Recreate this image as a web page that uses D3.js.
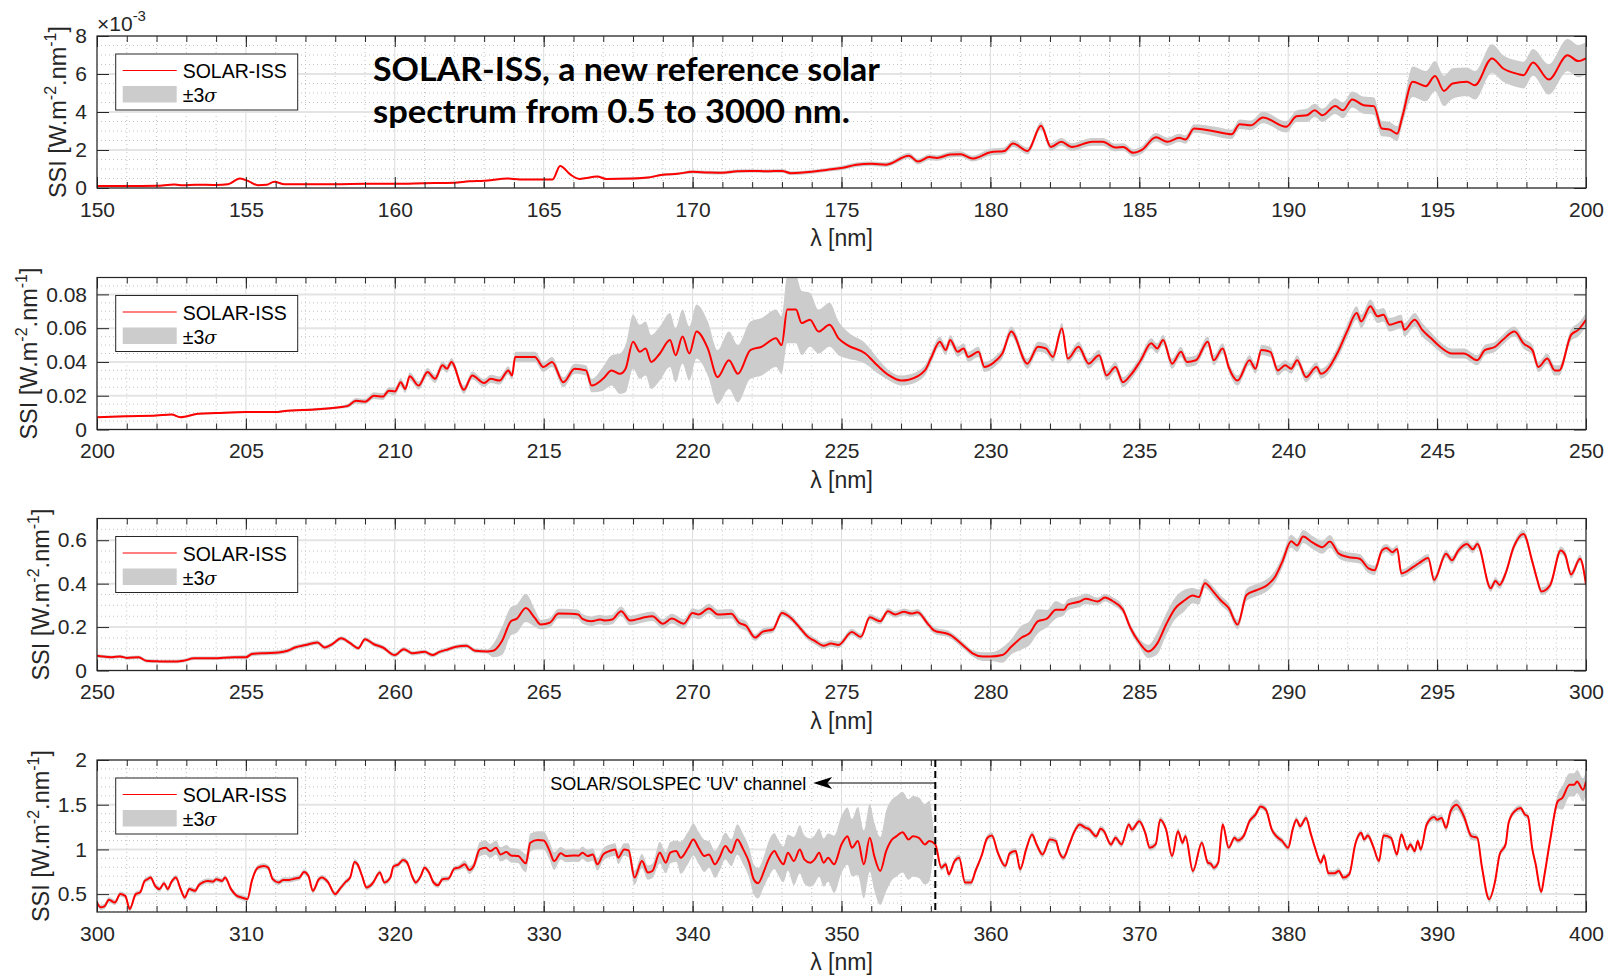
<!DOCTYPE html>
<html lang="en">
<head>
  <meta charset="UTF-8">
  <title>SOLAR-ISS spectrum 150-400 nm</title>
  <style>
    body { margin: 0; background: #fff; }
    svg { display: block; }
  </style>
</head>
<body>
  <div id="chart"></div>
  <script src="https://d3js.org/d3.v7.min.js"></script>
  <script>
// ---- panel 1 : 150-200 nm (values in 10^-3 W.m-2.nm-1)
const wl1 = [150,151,152,152.6,152.9,153.3,154,154.4,154.8,155.1,
  155.4,155.7,155.95,156.3,157,158,159,160,161,162,
  162.5,163,163.8,164.2,165,165.3,165.55,165.9,166.2,166.8,
  167.1,168,168.5,169,169.5,170,170.5,171,171.5,172,
  172.5,173,173.3,174,174.5,175,175.5,176,176.5,177.26,
  177.57,177.95,178.2,178.65,179,179.4,180,180.47,180.76,181.25,
  181.7,182.03,182.38,182.73,183.42,183.77,184.2,184.46,184.8,185.07,
  185.56,185.94,186.34,186.55,186.84,187.5,188.1,188.37,188.75,189.15,
  189.93,190.28,190.63,190.89,191.15,191.58,191.84,192.15,192.53,192.88,
  193.14,193.4,193.66,193.83,194.18,194.62,194.93,195.23,195.52,196,
  196.27,196.84,197.22,197.74,197.9,198.22,198.75,199.38,199.74,200]
const ssi1 = [0.10,0.10,0.12,0.18,0.14,0.17,0.16,0.20,0.50,0.35,
  0.15,0.17,0.33,0.20,0.20,0.20,0.22,0.22,0.25,0.28,
  0.35,0.38,0.50,0.45,0.45,0.45,1.16,0.70,0.48,0.60,
  0.48,0.50,0.55,0.70,0.75,0.85,0.82,0.80,0.88,0.90,
  0.88,0.90,0.78,0.85,0.95,1.05,1.22,1.28,1.23,1.70,
  1.39,1.63,1.58,1.76,1.78,1.55,1.88,1.95,2.34,1.95,
  3.27,2.16,2.43,2.16,2.43,2.43,2.13,2.16,1.85,1.99,
  2.67,2.43,2.64,2.55,3.13,2.99,2.83,3.36,3.30,3.71,
  3.22,3.78,3.83,4.09,3.83,4.31,4.09,4.66,4.36,4.31,
  3.13,3.08,2.86,3.74,5.59,5.36,5.89,5.11,5.50,5.59,
  5.41,6.82,6.29,5.99,5.94,6.61,5.71,6.99,6.68,6.82]
// 3-sigma half width, read as steps: start wavelength / value
const sigWl1 = [150,168,170,173,175,177,180,181.5,185.5,187,189,190.5,191.5,192.5,193,193.9,194.1,196,197,198.5,199]
const sigVal1 = [0.04,0.06,0.09,0.1,0.12,0.15,0.18,0.2,0.22,0.25,0.3,0.35,0.42,0.45,0.4,0.6,0.8,0.75,0.7,0.8,0.85]

// ---- panel 2 : 200-250 nm
const wl2 = [200,201,202,202.5,202.8,203.4,204,205,206,206.3,
  207.3,208.2,208.42,208.7,209,209.3,209.6,209.8,210,210.2,
  210.35,210.5,210.8,211.1,211.35,211.6,211.75,211.9,212.32,212.6,
  213,213.22,213.52,213.81,213.94,214.04,214.7,214.99,215.28,215.66,
  216.04,216.42,216.61,216.99,217.28,217.56,217.75,218,218.23,218.42,
  218.61,218.9,219.24,219.43,219.66,219.89,220.13,220.51,220.84,221.22,
  221.52,221.94,222.32,222.8,222.99,223.18,223.47,223.66,223.94,224.23,
  224.6,224.9,225.2,225.8,226.2,226.6,227,227.26,227.8,228,
  228.3,228.5,228.65,228.9,229.1,229.25,229.6,229.8,230.2,230.4,
  230.7,231.24,231.6,231.86,232.1,232.4,232.6,232.96,233.3,233.65,
  233.9,234.2,234.45,234.7,235.05,235.4,235.6,235.8,236.1,236.4,
  236.6,236.9,237.3,237.5,237.8,238,238.3,238.7,238.9,239.1,
  239.4,239.65,239.9,240.1,240.3,240.6,240.95,241.1,241.7,242,
  242.3,242.45,242.76,243,243.2,243.4,243.8,243.9,244.25,244.5,
  244.8,245.1,245.5,245.9,246.35,246.6,246.95,247.2,247.6,247.9,
  248.2,248.4,248.7,248.95,249.1,249.5,249.74,250]
const ssi2 = [.0073,.0079,.0083,.0089,.0073,.0093,.0097,.0103,.0103,.0109,
  .0119,.0133,.0140,.0170,.0165,.0200,.0195,.0230,.0225,.0280,
  .0240,.0315,.0260,.0340,.0300,.0380,.0360,.0400,.0235,.0320,
  .0275,.0300,.0290,.0350,.0320,.0430,.0430,.0370,.0400,.0280,
  .0360,.0350,.0260,.0300,.0350,.0330,.0360,.0520,.0460,.0480,
  .0400,.0450,.0530,.0440,.0550,.0450,.0580,.0480,.0310,.0410,
  .0330,.0470,.0490,.0540,.0500,.0710,.0710,.0630,.0650,.0580,
  .0620,.0540,.0500,.0450,.0380,.0320,.0290,.0295,.0350,.0420,
  .0520,.0470,.0530,.0460,.0480,.0430,.0460,.0370,.0410,.0450,
  .0580,.0390,.0490,.0480,.0430,.0600,.0420,.0490,.0390,.0440,
  .0320,.0370,.0280,.0320,.0410,.0510,.0480,.0530,.0390,.0460,
  .0400,.0410,.0520,.0410,.0480,.0370,.0290,.0410,.0360,.0470,
  .0460,.0350,.0380,.0360,.0410,.0310,.0370,.0330,.0470,.0590,
  .0690,.0640,.0730,.0670,.0680,.0620,.0640,.0590,.0650,.0590,
  .0540,.0490,.0450,.0450,.0410,.0470,.0490,.0530,.0580,.0510,
  .0470,.0370,.0420,.0350,.0350,.0560,.0590,.0650]
const sigWl2 = [200,205,207,208.4,208.6,209.2,210,214,216.5,216.9,217.2,217.5,217.7,217.9,221,222.7,223,223.6,223.9,224.2,224.7,225.1,225.6,226,226.5,241.5,241.9,244.7,245,249.3,249.6]
const sigVal2 = [.0005,.0006,.0008,.0012,.0016,.002,.0024,.003,.004,.007,.009,.012,.014,.016,.017,.017,.02,.019,.016,.013,.01,.008,.006,.0045,.003,.0035,.004,.0035,.003,.0035,.004]

// ---- panel 3 : 250-300 nm
const wl3 = [250,250.2,250.5,250.77,251,251.4,251.65,252.1,252.5,252.9,
  253.26,253.9,254.6,255,255.2,255.66,256.1,256.4,256.65,257,
  257.4,257.65,257.9,258.2,258.5,258.77,259,259.3,259.6,260,
  260.3,260.6,261,261.26,261.5,261.8,262.06,262.4,262.7,263.1,
  263.3,263.6,263.9,264.1,264.4,264.7,264.9,265.2,265.5,265.9,
  266.16,266.3,266.6,266.9,267.05,267.3,267.6,267.9,268.3,268.65,
  269,269.3,269.7,270,270.2,270.55,270.85,271.3,271.56,271.8,
  272.1,272.36,272.7,273,273.3,273.6,273.87,274.1,274.4,274.65,
  274.9,275.35,275.65,275.95,276.3,276.56,276.8,277.1,277.35,277.55,
  277.9,278.1,278.65,279.1,279.4,279.75,280,280.4,280.7,281.05,
  281.3,281.6,281.9,282.2,282.47,282.6,283,283.2,283.6,283.85,
  284.1,284.45,284.7,285,285.3,285.6,285.9,286.2,286.5,286.8,
  287,287.2,287.5,287.75,288,288.3,288.6,288.96,289.3,289.56,
  289.8,290.1,290.3,290.5,290.8,291.15,291.4,291.7,292,292.4,
  292.7,292.9,293.15,293.3,293.5,293.66,293.8,294.2,294.4,294.7,
  294.9,295.3,295.5,295.7,296,296.2,296.35,296.8,296.96,297.1,
  297.3,297.57,297.9,298.2,298.35,298.5,298.8,299.15,299.3,299.5,
  299.8,300]
const ssi3 = [.068,.064,.061,.065,.058,.061,.045,.042,.041,.045,
  .056,.056,.061,.061,.076,.080,.083,.091,.106,.117,
  .129,.106,.121,.148,.126,.103,.144,.121,.106,.071,
  .098,.079,.086,.071,.086,.098,.109,.114,.091,.088,
  .091,.136,.227,.239,.288,.242,.212,.220,.262,.261,
  .258,.238,.227,.235,.230,.235,.273,.230,.242,.250,
  .215,.239,.215,.265,.258,.285,.258,.261,.220,.205,
  .152,.179,.189,.265,.242,.197,.155,.136,.114,.124,
  .118,.177,.155,.245,.227,.273,.258,.270,.262,.268,
  .215,.185,.164,.114,.079,.064,.064,.071,.109,.152,
  .170,.227,.239,.280,.280,.303,.318,.330,.318,.336,
  .320,.280,.197,.129,.088,.124,.212,.285,.321,.345,
  .338,.402,.361,.321,.288,.212,.348,.371,.394,.432,
  .500,.595,.576,.617,.591,.568,.594,.538,.523,.515,
  .470,.462,.553,.564,.545,.560,.447,.477,.495,.518,
  .417,.538,.508,.550,.582,.558,.582,.379,.412,.394,
  .447,.568,.629,.500,.424,.364,.394,.553,.533,.442,
  .515,.397]
const sigWl3 = [250,255,263.3,263.6,264.45,264.9,272,279.7,280.4,280.8,281.8,282.4,283.3,285.2,285.6,286.6,287.1,288.5,290,291.5,293]
const sigVal3 = [.008,.01,.03,.065,.04,.022,.015,.02,.035,.055,.04,.025,.018,.03,.05,.035,.022,.028,.03,.022,.018]

// ---- panel 4 : 300-400 nm
const wl4 = [300,300.24,300.5,300.8,301.2,301.56,301.9,302.2,302.6,302.9,
  303.2,303.4,303.6,303.9,304.2,304.5,304.75,305,305.3,305.6,
  305.9,306.2,306.6,306.8,307.1,307.4,307.8,308,308.4,308.6,
  309,309.4,309.7,310.1,310.4,310.8,311.2,311.5,311.8,312.2,
  312.5,312.9,313.3,313.6,313.9,314.2,314.5,314.9,315.1,315.5,
  316,316.3,316.7,317,317.3,317.5,317.8,318.1,318.5,319,
  319.3,319.7,319.9,320.25,320.55,320.8,321.2,321.4,321.75,322,
  322.3,322.6,322.9,323.2,323.6,324,324.3,324.7,325,325.3,
  325.7,326.1,326.4,326.8,327.1,327.5,327.8,328.3,328.6,328.8,
  329.1,329.6,330,330.4,330.7,331.15,331.5,332,332.35,332.6,
  332.95,333.3,333.6,334,334.4,334.8,335,335.4,335.7,336.1,
  336.6,337,337.3,337.8,338.2,338.5,338.9,339.2,339.7,340.05,
  340.4,340.8,341.1,341.5,341.8,342.2,342.6,343,343.4,343.8,
  344.1,344.4,344.8,345.1,345.5,345.7,346.1,346.4,346.8,347.2,
  347.5,347.9,348.2,348.5,348.8,349.1,349.5,350,350.4,350.7,
  351.1,351.5,351.9,352.2,352.6,353,353.4,353.7,354.1,354.5,
  354.8,355.2,355.6,355.9,356.3,356.7,357,357.2,357.6,357.9,
  358.3,358.7,359,359.4,359.8,360.1,360.5,361,361.3,361.7,
  362,362.4,362.8,363.1,363.5,364,364.4,364.6,364.9,365.3,
  365.6,366,366.4,366.6,367.1,367.4,367.6,368.1,368.4,368.8,
  369.3,369.5,370,370.4,370.7,371.1,371.4,371.8,372.2,372.6,
  372.9,373.1,373.6,374.2,374.6,374.8,375,375.3,375.6,376,
  376.4,376.6,377,377.4,377.8,378.15,378.5,378.9,379.2,379.6,
  380,380.3,380.55,380.8,381.2,381.5,381.8,382.2,382.4,382.7,
  383.1,383.4,383.7,384.1,384.5,384.9,385.1,385.35,385.7,386.1,
  386.4,386.9,387.3,387.6,388,388.2,388.5,388.7,388.9,389.3,
  389.8,390,390.3,390.6,390.9,391.3,391.8,392.3,392.7,393,
  393.5,393.9,394.2,394.6,394.8,395.2,395.6,395.9,396.1,396.4,
  396.6,397,397.2,397.6,398.1,398.4,398.9,399.2,399.4,399.8,
  400]
const ssi4 = [.407,.352,.363,.437,.407,.500,.480,.333,.500,.520,
  .648,.667,.685,.593,.556,.622,.556,.637,.685,.563,
  .463,.556,.537,.593,.630,.648,.640,.667,.648,.685,
  .556,.480,.463,.444,.648,.796,.815,.796,.667,.630,
  .659,.659,.674,.685,.748,.704,.537,.667,.685,.637,
  .500,.556,.637,.685,.859,.833,.704,.574,.619,.741,
  .630,.685,.807,.833,.881,.859,.685,.630,.704,.796,
  .741,.630,.600,.667,.674,.785,.796,.833,.770,.815,
  1.000,1.019,.981,1.019,.944,.970,.933,.926,.870,.844,
  1.074,1.104,1.100,.981,.870,.956,.926,.933,.930,.963,
  .926,.944,.833,.944,.981,1.000,.907,1.000,.990,.685,
  .870,.741,.759,.963,.852,.963,.981,.907,1.019,1.111,
  1.019,.926,.944,.833,.907,1.037,.963,1.111,1.000,.852,
  .667,.622,.759,.889,.981,.926,.833,.963,.870,1.000,
  .889,.852,.889,.963,.852,.907,.833,1.056,1.148,1.019,
  1.093,.833,1.130,.926,.759,.981,1.111,1.148,1.193,1.111,
  1.148,1.130,1.056,1.093,1.056,.796,.833,.722,.870,.907,
  .630,.630,.759,.926,1.130,1.156,.963,.815,.956,.981,
  .778,1.000,1.167,1.056,.944,1.110,1.093,.981,.907,1.056,
  1.185,1.278,1.241,1.230,1.148,1.230,1.210,1.056,1.130,1.056,
  1.278,1.222,1.315,1.185,1.019,1.056,1.333,1.222,.926,1.204,
  1.074,1.148,.759,1.074,.852,.840,.796,.852,1.278,1.019,
  1.130,1.100,1.148,1.315,1.389,1.481,1.444,1.222,1.148,1.093,
  1.019,1.222,1.333,1.259,1.352,1.185,1.019,.852,.933,.733,
  .733,.759,.685,.722,1.056,1.185,1.111,1.156,1.037,.870,
  1.156,1.130,.944,1.167,1.000,1.056,.981,1.093,1.000,1.278,
  1.363,1.333,1.352,1.241,1.426,1.500,1.370,1.148,1.130,.815,
  .444,.648,.944,1.056,1.296,1.426,1.463,1.389,1.370,1.000,
  .850,.526,.704,1.111,1.537,1.574,1.722,1.722,1.759,1.667,
  1.759]
const sigWl4 = [300,324.5,325.5,328.5,331,335.5,337.5,339,341,343,345,346.5,349.5,351,353,356.3,389,390.8,392,392.6,397.8,398.4]
const sigVal4 = [.03,.045,.08,.1,.07,.08,.12,.18,.15,.17,.2,.27,.32,.38,.45,.035,.04,.06,.045,.035,.08,.13]

// ---- axis ticks
const xTicks1 = [150,155,160,165,170,175,180,185,190,195,200]
const xTicks2 = [200,205,210,215,220,225,230,235,240,245,250]
const xTicks3 = [250,255,260,265,270,275,280,285,290,295,300]
const xTicks4 = [300,310,320,330,340,350,360,370,380,390,400]
const yTicks1 = [0,2,4,6,8]
const yTicks2 = [0,0.02,0.04,0.06,0.08]
const yTicks3 = [0,0.2,0.4,0.6]
const yTicks4 = [0.5,1,1.5,2]

// annotation in panel 4
const uvEdge = 356.3
const uvArrowTip = 348.1
const uvLabel = "SOLAR/SOLSPEC 'UV' channel"

const titleLines = ['SOLAR-ISS, a new reference solar', 'spectrum from 0.5 to 3000 nm.']

// ------------------------------------------------------------------
const W = 1610, H = 976
const left = 97, pw = 1489, ph = 152
const tops = [36, 277.5, 518.5, 760]
const font = '"Liberation Sans", Arial, Helvetica, sans-serif'
const axisColor = '#262626'

const minorRange = (a, b, step, k) => d3.range(Math.round(a * k), Math.round(b * k) + 1, Math.round(step * k)).map(v => v / k)

const panels = [
  {wl: wl1, ssi: ssi1, sw: sigWl1, sv: sigVal1, xd: [150, 200], yd: [0, 8], xt: xTicks1, yt: yTicks1,
   xm: minorRange(150, 200, 1, 1), ym: minorRange(0, 8, 0.5, 10), exp: true},
  {wl: wl2, ssi: ssi2, sw: sigWl2, sv: sigVal2, xd: [200, 250], yd: [0, 0.09], xt: xTicks2, yt: yTicks2,
   xm: minorRange(200, 250, 1, 1), ym: minorRange(0, 0.09, 0.005, 1000)},
  {wl: wl3, ssi: ssi3, sw: sigWl3, sv: sigVal3, xd: [250, 300], yd: [0, 0.7], xt: xTicks3, yt: yTicks3,
   xm: minorRange(250, 300, 1, 1), ym: minorRange(0, 0.7, 0.05, 100)},
  {wl: wl4, ssi: ssi4, sw: sigWl4, sv: sigVal4, xd: [300, 400], yd: [0.3, 2], xt: xTicks4, yt: yTicks4,
   xm: minorRange(300, 400, 2, 1), ym: minorRange(0.3, 2, 0.1, 10), uv: true}
]

const sigmaAt = (sw, sv, w) => sv[Math.max(0, d3.bisectRight(sw, w) - 1)]

const svg = d3.select('#chart').append('svg')
  .attr('width', W).attr('height', H)
  .style('font-family', font)

svg.append('rect').attr('width', W).attr('height', H).attr('fill', '#fff')

const defs = svg.append('defs')

panels.forEach((p, i) => {
  const top = tops[i]
  const x = d3.scaleLinear().domain(p.xd).range([0, pw])
  const y = d3.scaleLinear().domain(p.yd).range([ph, 0])
  const n = Math.min(p.wl.length, p.ssi.length)
  const rows = d3.range(n).map(k => ({w: p.wl[k], v: p.ssi[k], s: sigmaAt(p.sw, p.sv, p.wl[k])}))

  const g = svg.append('g').attr('transform', `translate(${left},${top})`)

  defs.append('clipPath').attr('id', 'clip' + i)
    .append('rect').attr('width', pw).attr('height', ph)

  // minor grid
  g.append('g').selectAll('line').data(p.xm.filter(v => !p.xt.includes(v))).join('line')
    .attr('x1', d => x(d)).attr('x2', d => x(d)).attr('y1', 0).attr('y2', ph)
    .attr('stroke', '#c4c4c4').attr('stroke-width', 1).attr('stroke-dasharray', '1,3')
  g.append('g').selectAll('line').data(p.ym.filter(v => !p.yt.some(t => Math.abs(t - v) < 1e-9))).join('line')
    .attr('x1', 0).attr('x2', pw).attr('y1', d => y(d)).attr('y2', d => y(d))
    .attr('stroke', '#c4c4c4').attr('stroke-width', 1).attr('stroke-dasharray', '1,3')

  // major grid
  g.append('g').selectAll('line').data(p.xt).join('line')
    .attr('x1', d => x(d)).attr('x2', d => x(d)).attr('y1', 0).attr('y2', ph)
    .attr('stroke', '#dcdcdc').attr('stroke-width', 1)
  g.append('g').selectAll('line').data(p.yt).join('line')
    .attr('x1', 0).attr('x2', pw).attr('y1', d => y(d)).attr('y2', d => y(d))
    .attr('stroke', '#e4e4e4').attr('stroke-width', 2)

  // band + line
  const plot = g.append('g').attr('clip-path', `url(#clip${i})`)
  plot.append('path').datum(rows)
    .attr('d', d3.area().curve(d3.curveMonotoneX)
      .x(d => x(d.w)).y0(d => y(d.v - d.s)).y1(d => y(d.v + d.s)))
    .attr('fill', '#cccccc')
  plot.append('path').datum(rows)
    .attr('d', d3.line().curve(d3.curveMonotoneX).x(d => x(d.w)).y(d => y(d.v)))
    .attr('fill', 'none').attr('stroke', '#ff0000').attr('stroke-width', 2)
    .attr('stroke-linejoin', 'round')

  // axes (ticks inward)
  const styleAxis = sel => {
    sel.select('.domain').remove()
    sel.selectAll('.tick line').attr('stroke', axisColor)
    sel.selectAll('.tick text').attr('fill', axisColor).style('font-size', '21px').style('font-family', font)
  }
  g.append('g').attr('transform', `translate(0,${ph})`)
    .call(d3.axisBottom(x).tickValues(p.xm).tickSize(-6).tickFormat('')).call(styleAxis)
  g.append('g')
    .call(d3.axisTop(x).tickValues(p.xm).tickSize(-6).tickFormat('')).call(styleAxis)
  g.append('g').attr('transform', `translate(0,${ph})`)
    .call(d3.axisBottom(x).tickValues(p.xt).tickSize(-11).tickPadding(14).tickFormat(d3.format('d'))).call(styleAxis)
  g.append('g')
    .call(d3.axisTop(x).tickValues(p.xt).tickSize(-11).tickFormat('')).call(styleAxis)
  const ya = g.append('g')
    .call(d3.axisLeft(y).tickValues(p.yt).tickSize(-12).tickPadding(10).tickFormat(d => String(+d.toFixed(3)))).call(styleAxis)
  g.append('g').attr('transform', `translate(${pw},0)`)
    .call(d3.axisRight(y).tickValues(p.yt).tickSize(-12).tickFormat('')).call(styleAxis)

  // box
  g.append('rect').attr('width', pw).attr('height', ph)
    .attr('fill', 'none').attr('stroke', axisColor).attr('stroke-width', 1.2)

  // x label
  g.append('text').attr('x', pw / 2).attr('y', ph + 58)
    .attr('text-anchor', 'middle').attr('fill', axisColor).style('font-size', '23px')
    .text('λ [nm]')

  // y label, placed left of the widest tick label
  let maxW = 0
  ya.selectAll('.tick text').each(function () { maxW = Math.max(maxW, this.getComputedTextLength()) })
  const lx = -10 - maxW - 9
  const yl = g.append('text')
    .attr('transform', `translate(${lx},${ph / 2}) rotate(-90)`)
    .attr('text-anchor', 'middle').attr('fill', axisColor).style('font-size', '23.5px')
  yl.append('tspan').text('SSI [W.m')
  yl.append('tspan').attr('dy', -10).style('font-size', '16px').text('-2')
  yl.append('tspan').attr('dy', 10).text('.nm')
  yl.append('tspan').attr('dy', -10).style('font-size', '16px').text('-1')
  yl.append('tspan').attr('dy', 10).text(']')

  if (p.exp) {
    const ex = g.append('text').attr('x', 0).attr('y', -5).attr('fill', axisColor).style('font-size', '21px')
    ex.append('tspan').text('×10')
    ex.append('tspan').attr('dy', -10).style('font-size', '15px').text('-3')
  }

  // legend
  const lg = g.append('g').attr('transform', 'translate(18.7,18)')
  lg.append('rect').attr('width', 182).attr('height', 56)
    .attr('fill', '#fff').attr('stroke', axisColor).attr('stroke-width', 1)
  lg.append('line').attr('x1', 7).attr('x2', 61).attr('y1', 16.5).attr('y2', 16.5)
    .attr('stroke', '#ff0000').attr('stroke-width', 1.2)
  lg.append('rect').attr('x', 7).attr('y', 32).attr('width', 54).attr('height', 16.5).attr('fill', '#cccccc')
  lg.append('text').attr('x', 67).attr('y', 24).style('font-size', '19.5px').attr('fill', '#000').text('SOLAR-ISS')
  const sg = lg.append('text').attr('x', 67).attr('y', 48).style('font-size', '19.5px').attr('fill', '#000')
  sg.append('tspan').text('±3')
  sg.append('tspan').style('font-style', 'italic').style('font-family', '"DejaVu Serif", serif').style('font-size', '18px').text('σ')

  // UV channel annotation
  if (p.uv) {
    const ux = x(uvEdge), tx = x(uvArrowTip)
    g.append('line').attr('x1', ux).attr('x2', ux).attr('y1', 0).attr('y2', ph)
      .attr('stroke', '#000').attr('stroke-width', 2).attr('stroke-dasharray', '7,4')
    g.append('line').attr('x1', ux).attr('x2', tx + 14).attr('y1', 23).attr('y2', 23)
      .attr('stroke', '#000').attr('stroke-width', 1)
    g.append('path')
      .attr('d', `M${tx},23 L${tx + 19},17 L${tx + 14},23 L${tx + 19},29 Z`)
      .attr('fill', '#000')
    g.append('text').attr('x', tx - 7).attr('y', 29.5).attr('text-anchor', 'end')
      .style('font-size', '18px').attr('fill', '#000').text(uvLabel)
  }
})

// headline
const lens = [507, 477]
titleLines.forEach((t, i) => {
  svg.append('text').attr('x', 373).attr('y', 81 + i * 42)
    .attr('textLength', lens[i]).attr('lengthAdjust', 'spacingAndGlyphs')
    .style('font-family', 'Lato, "Open Sans", sans-serif').style('font-weight', 700).style('font-size', '33px')
    .attr('fill', '#000').text(t)
})
  </script>
</body>
</html>
